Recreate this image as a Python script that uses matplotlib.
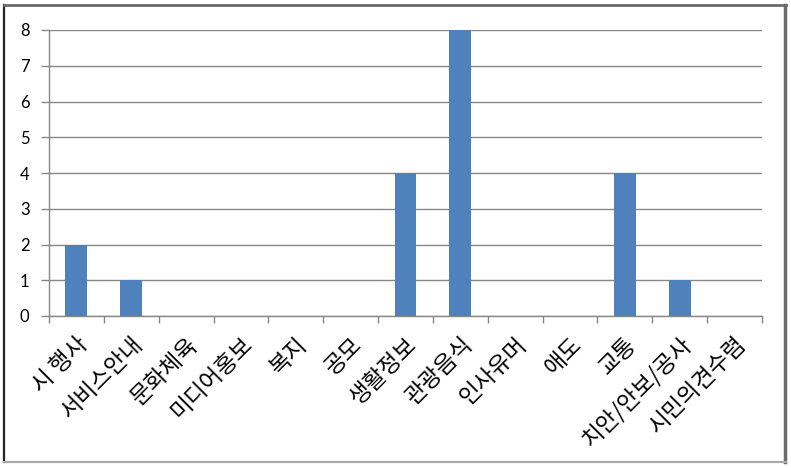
import matplotlib
matplotlib.use("Agg")
import matplotlib.pyplot as plt
from matplotlib.lines import Line2D
import numpy as np

categories = ["시 행사", "서비스안내", "문화체육", "미디어홍보", "복지", "공모", "생활정보",
              "관광음식", "인사유머", "애도", "교통", "치안/안보/공사", "시민의견수렴"]
counts = [2, 1, 0, 0, 0, 0, 4, 8, 0, 0, 4, 1, 0]

bar_color = "#4F81BD"
grid_color = "#878787"

fig = plt.figure(figsize=(7.91, 4.68), dpi=100)
ax = fig.add_axes([49 / 791, 1 - 316 / 468, (762 - 49) / 791, (316 - 30) / 468])

x = np.arange(len(categories))
ax.bar(x, counts, width=0.4, color=bar_color, zorder=3)

ax.set_xlim(-0.5, len(categories) - 0.5)
ax.set_ylim(0, 8)
ax.set_yticks(range(0, 9))
ax.yaxis.grid(True, color=grid_color, lw=1.0, zorder=0)
ax.tick_params(axis="y", length=6, color=grid_color, width=1.0, pad=8, labelsize=12)
for t in ax.get_yticklabels():
    t.set_family(["Lato", "DejaVu Sans"])

ax.set_xticks(x)
ax.set_xticklabels(categories, rotation=45, ha="right", va="top",
                   rotation_mode="anchor", fontsize=16.5,
                   family=["Noto Sans CJK KR", "DejaVu Sans"])
ax.tick_params(axis="x", length=0, pad=12)
ax.set_xticks(np.arange(-0.5, len(categories)), minor=True)
ax.tick_params(axis="x", which="minor", length=5, color=grid_color, width=1.0)

for s in ["top", "right"]:
    ax.spines[s].set_visible(False)
for s in ["left", "bottom"]:
    ax.spines[s].set_color(grid_color)
    ax.spines[s].set_linewidth(1.0)

# outer frame
W, H = 791, 468
fig.add_artist(Line2D([4 / W, 4 / W], [1 - 5 / H, 1 - 462 / H], color="#222222", lw=1.6))
fig.add_artist(Line2D([4 / W, 786 / W], [1 - 5 / H, 1 - 5 / H], color="#6a6a6a", lw=2.0))
fig.add_artist(Line2D([785 / W, 785 / W], [1 - 5 / H, 1 - 462 / H], color="#6a6a6a", lw=2.5))
fig.add_artist(Line2D([4 / W, 786 / W], [1 - 462 / H, 1 - 462 / H], color="#a8a8a8", lw=1.6))

fig.savefig("out.png", dpi=100)
